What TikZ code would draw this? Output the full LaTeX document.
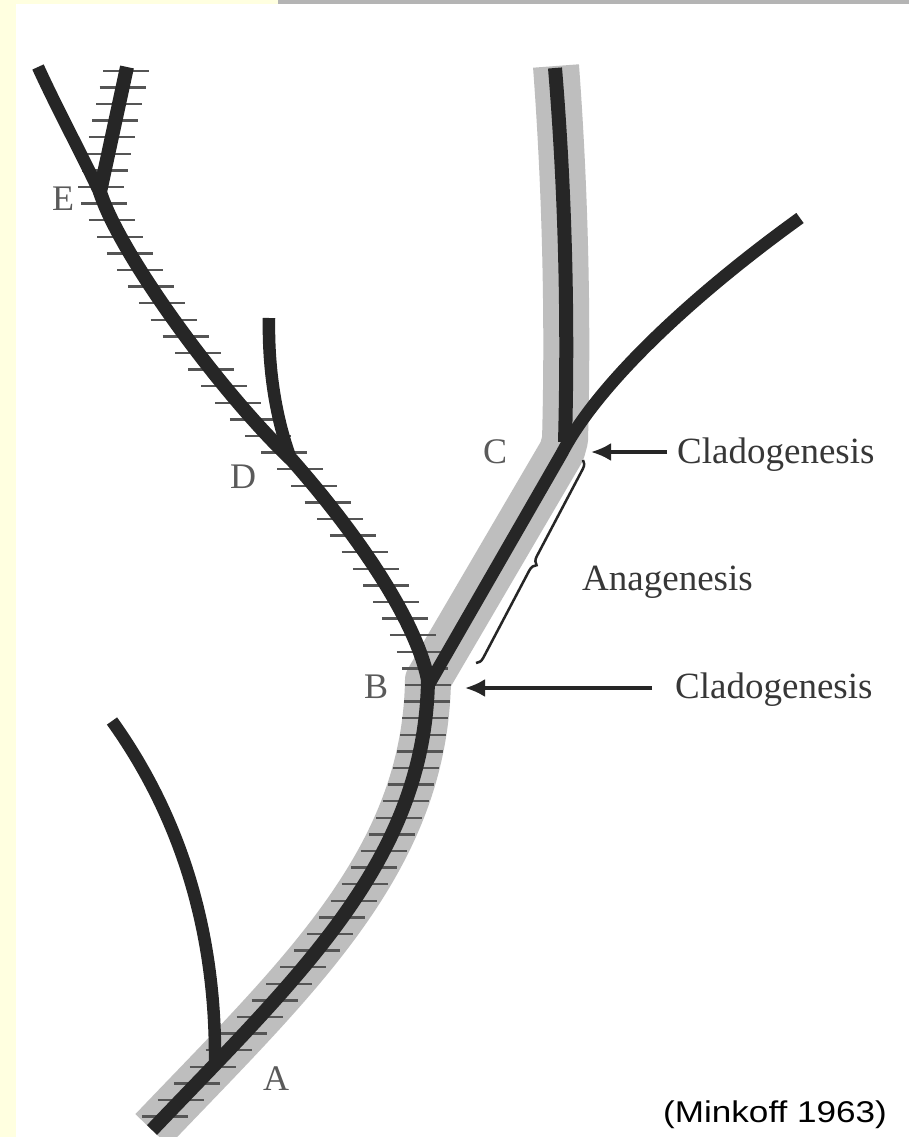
\documentclass[tikz,border=0pt]{standalone}
\usepackage{fontspec}
\setmainfont{Liberation Serif}
\newfontfamily\citefont{Liberation Sans}
\usetikzlibrary{intersections,decorations.pathreplacing,arrows.meta}
\definecolor{bgyellow}{RGB}{255,255,224}
\definecolor{topgray}{RGB}{180,180,180}
\definecolor{halocol}{RGB}{190,190,190}
\definecolor{ink}{RGB}{38,38,38}
\definecolor{tickcol}{RGB}{85,85,85}
\definecolor{txtcol}{RGB}{55,55,55}
\definecolor{labcol}{RGB}{90,90,90}
\def\trunkseg{(152,1130) .. controls (300,975) and (425,860) .. (428,680)}
\def\linpath{\trunkseg .. controls (416,620) and (358,535) .. (292,460) .. controls (222,394) and (120,255) .. (100,192) -- (127,67)}
\begin{document}
\begin{tikzpicture}[x=1pt,y=-1pt,
  halostyle/.style={draw=halocol,line width=46pt,line join=round,line cap=butt},
  blk/.style={draw=ink,line width=14pt,line join=round,line cap=butt},
  thinblk/.style={draw=ink,line width=12.5pt,line join=round,line cap=butt},
  tickline/.style={draw=tickcol,line width=2.5pt},
  arr/.style={draw=ink,line width=3.5pt,-{Latex[length=20pt,width=18pt]}},
  bracestyle/.style={draw=ink,line width=2.5pt,decorate,decoration={brace,amplitude=8pt}},
  txt/.style={text=txtcol,inner sep=0pt,anchor=base west,font=\fontsize{37}{40}\selectfont},
  lab/.style={text=labcol,inner sep=0pt,anchor=base west,font=\fontsize{36}{40}\selectfont},
  citestyle/.style={text=black,inner sep=0pt,anchor=base west,font=\citefont\fontsize{30}{34}\selectfont}]
\useasboundingbox (0,0) rectangle (909,1137);
\fill[white] (0,0) rectangle (909,1137);
\fill[bgyellow] (0,0) rectangle (16,1137);
\fill[bgyellow] (0,0) rectangle (278,4);
\fill[topgray] (278,0) rectangle (909,4);
% grey halo of the emphasised lineage
\path[halostyle] \trunkseg -- (562,451) -- (565,440) .. controls (568,330) and (566,200) .. (556,66);
% hatched lineage
\path[name path=lin] \linpath;
\foreach \k in {-37,...,26} {
  \pgfmathsetmacro\yy{685+16.6*\k}
  \path[name path=hl] (0,\yy) -- (909,\yy);
  \draw[tickline, name intersections={of=lin and hl, by=tp}] (tp) ++(-23,0) -- ++(46,0);
}
\path[blk] \linpath;
% side branches
\path[thinblk] (215,1062) .. controls (216,950) and (190,830) .. (112,721);
\path[thinblk] (292,462) .. controls (276,420) and (268,370) .. (269,318);
\path[thinblk] (102,198) .. controls (86,162) and (60,115) .. (38,67);
\path[blk] (565,442) .. controls (568,330) and (566,200) .. (555,68);
\path[blk,line width=12.5pt] (428,686) -- (562,453) .. controls (600,380) and (700,290) .. (800,218);
% labels
\node[lab] (lA) at (263,1090) {A};
\node[lab] (lB) at (364,698) {B};
\node[lab] (lC) at (483,463) {C};
\node[lab] (lD) at (230,488) {D};
\node[lab] (lE) at (52,210) {E};
\node[txt] (clado1) at (677,463) {Cladogenesis};
\node[txt] (clado2) at (675,698) {Cladogenesis};
\node[txt] (ana) at (582,590) {Anagenesis};
\node[citestyle] (cite) at (663,1122) {\scalebox{1.17}[1]{(Minkoff 1963)}};
% arrows and brace
\coordinate (a1tail) at (667,452);
\coordinate (a1tip) at (591,452);
\coordinate (a2tail) at (652,688);
\coordinate (a2tip) at (465,688);
\draw[arr] (a1tail) -- (a1tip);
\draw[arr] (a2tail) -- (a2tip);
\coordinate (brtop) at (583,460);
\coordinate (brbot) at (476,663);
\draw[bracestyle] (brtop) -- (brbot);
\end{tikzpicture}
\end{document}
